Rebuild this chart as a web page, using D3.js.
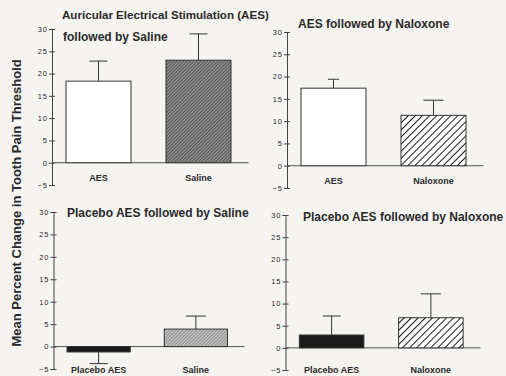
<!DOCTYPE html>
<html><head><meta charset="utf-8">
<script src="https://cdn.jsdelivr.net/npm/d3@7"></script>
<style>
html,body{margin:0;padding:0;background:#f5f4f1;}
svg{display:block;}
text{font-family:"Liberation Sans",Arial,sans-serif;fill:#2a2a2a;}
</style></head>
<body><svg id="c" width="506" height="376"></svg>
<script>
// ---- data ----
const panelTitles = [
  ["Auricular Electrical Stimulation (AES)", "followed by Saline"],
  ["AES followed by Naloxone"],
  ["Placebo AES followed by Saline"],
  ["Placebo AES followed by Naloxone"]
];
const panelCategories = [
  ["AES", "Saline"],
  ["AES", "Naloxone"],
  ["Placebo AES", "Saline"],
  ["Placebo AES", "Naloxone"]
];
const meanValues = [
  [18.3, 23.0],
  [17.4, 11.3],
  [-1.2, 3.9],
  [2.9, 6.8]
];
const errorValues = [
  [4.5, 5.9],
  [2.0, 3.4],
  [2.6, 2.9],
  [4.3, 5.4]
];
const yTicks = [-5, 0, 5, 10, 15, 20, 25, 30];
const yLabel = "Mean Percent Change in Tooth Pain Threshold";

// ---- layout (styles / positions) ----
const layout = [
  {xr:[48.5,248.5], yr:[185,29], title:[{x:62,y:19,fs:11.6},{x:63,y:41,fs:12}], lab:18, fills:["white","url(#hatchDark)"], caps:[18,18]},
  {xr:[283.5,483.5], yr:[188,32], title:[{x:298,y:28,fs:12}], lab:18, fills:["white","url(#hatchWide)"], caps:[11,20]},
  {xr:[50,244.5], yr:[369,212], title:[{x:67,y:217,fs:12}], lab:26.5, fills:["#1a1a1a","url(#hatchLight)"], caps:[18,20]},
  {xr:[282,480.5], yr:[370,215], title:[{x:303,y:221,fs:12}], lab:25.5, fills:["#1a1a1a","url(#hatchWide)"], caps:[18,20]}
];

const svg = d3.select("#c");
const defs = svg.append("defs");
function hatch(id, size, bg, stroke, sw, angle){
  const p = defs.append("pattern").attr("id", id).attr("patternUnits","userSpaceOnUse")
    .attr("width", size).attr("height", size).attr("patternTransform", "rotate("+angle+")");
  p.append("rect").attr("width", size).attr("height", size).attr("fill", bg);
  p.append("line").attr("x1",0).attr("y1",0).attr("x2",0).attr("y2",size)
    .attr("stroke", stroke).attr("stroke-width", sw);
}
hatch("hatchDark", 2.4, "#8a8a8a", "#3a3a3a", 1.1, 45);
hatch("hatchLight", 2.4, "#bdbdbd", "#6a6a6a", 0.9, 45);
hatch("hatchWide", 5, "#ffffff", "#1a1a1a", 2.0, 45);

svg.append("text").attr("transform","translate(21,203) rotate(-90)")
  .attr("text-anchor","middle").attr("font-size",13).attr("font-weight","bold")
  .text(yLabel);

panelCategories.forEach((cats, i) => {
  const L = layout[i];
  const g = svg.append("g");
  const x = d3.scaleBand().domain(cats).range(L.xr).paddingInner(0.35).paddingOuter(0.175);
  const y = d3.scaleLinear().domain([-5, 30]).range(L.yr);
  const ax = L.xr[0] + 3.5;

  // y axis
  const axis = d3.axisLeft(y).tickValues(yTicks).tickSize(3).tickPadding(2);
  const ag = g.append("g").attr("transform", `translate(${ax},0)`).call(axis);
  ag.select(".domain").attr("stroke","#444").attr("stroke-width",1);
  ag.selectAll(".tick line").attr("x2", 3).attr("x1",-3).attr("stroke","#444");
  ag.selectAll(".tick text").attr("x",-4).attr("font-size",7.5).attr("letter-spacing","1px")
    .attr("font-family","Liberation Sans,Arial,sans-serif").attr("fill","#555");

  // zero line
  g.append("line").attr("x1", ax).attr("x2", L.xr[1]).attr("y1", y(0)).attr("y2", y(0))
    .attr("stroke","#555").attr("stroke-width",1);

  // error bars
  cats.forEach((c, j) => {
    const v = meanValues[i][j], e = errorValues[i][j];
    const cx = x(c) + x.bandwidth()/2;
    const tip = v >= 0 ? v + e : v - e;
    g.append("line").attr("x1",cx).attr("x2",cx).attr("y1",y(v)).attr("y2",y(tip))
      .attr("stroke","#333").attr("stroke-width",1);
    g.append("line").attr("x1",cx - L.caps[j]/2).attr("x2",cx + L.caps[j]/2)
      .attr("y1",y(tip)).attr("y2",y(tip)).attr("stroke","#333").attr("stroke-width",1);
  });

  // bars
  g.selectAll("rect.bar").data(cats).enter().append("rect").attr("class","bar")
    .attr("x", d => x(d)).attr("width", x.bandwidth())
    .attr("y", (d,j) => y(Math.max(0, meanValues[i][j])))
    .attr("height", (d,j) => Math.abs(y(meanValues[i][j]) - y(0)))
    .attr("fill", (d,j) => L.fills[j]).attr("stroke","#333").attr("stroke-width",1);

  // category labels
  g.selectAll("text.cat").data(cats).enter().append("text").attr("class","cat")
    .attr("x", d => x(d) + x.bandwidth()/2).attr("y", y(0) + L.lab)
    .attr("text-anchor","middle").attr("font-size",9).attr("font-weight","bold")
    .attr("fill","#333").text(d => d);

  // titles
  panelTitles[i].forEach((t, k) => {
    g.append("text").attr("x", L.title[k].x).attr("y", L.title[k].y)
      .attr("font-size", L.title[k].fs).attr("font-weight","bold").text(t);
  });
});
</script></body></html>
